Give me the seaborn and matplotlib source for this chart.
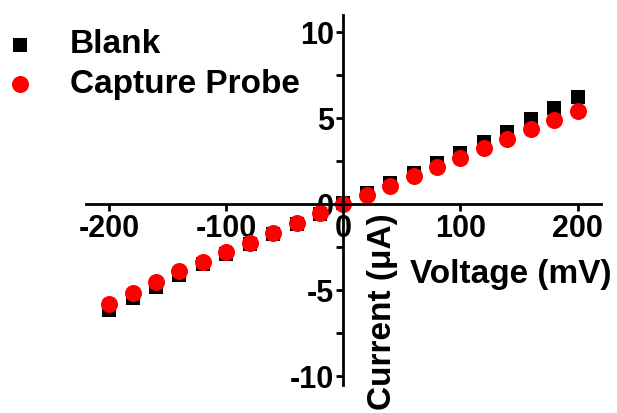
import numpy as np
import pandas as pd
import matplotlib
matplotlib.use('Agg')
import matplotlib.pyplot as plt
from matplotlib.ticker import MultipleLocator
import seaborn as sns

sns.set_style('ticks')
plt.rcParams['font.family'] = ['Liberation Sans', 'DejaVu Sans']
plt.rcParams['font.weight'] = 'bold'
plt.rcParams['axes.unicode_minus'] = False
plt.rcParams['text.color'] = 'black'
plt.rcParams['axes.labelcolor'] = 'black'
plt.rcParams['xtick.color'] = 'black'
plt.rcParams['ytick.color'] = 'black'
plt.rcParams['axes.edgecolor'] = 'black'

# I-V 数据
voltage = [-200, -180, -160, -140, -120, -100, -80, -60, -40, -20, 0,
           20, 40, 60, 80, 100, 120, 140, 160, 180, 200]
blank = [-6.16, -5.45, -4.80, -4.13, -3.50, -2.87, -2.29, -1.72, -1.15, -0.58, 0.05,
         0.64, 1.22, 1.82, 2.42, 3.00, 3.60, 4.20, 4.94, 5.56, 6.20]
capture = [-5.77, -5.14, -4.51, -3.90, -3.35, -2.77, -2.23, -1.67, -1.12, -0.54, 0.0,
           0.56, 1.07, 1.63, 2.15, 2.70, 3.24, 3.80, 4.34, 4.88, 5.43]

df = pd.DataFrame({'Voltage': voltage * 2,
                   'Current': blank + capture,
                   'Sample': ['Blank'] * len(voltage) + ['Capture Probe'] * len(voltage)})

fig = plt.figure(figsize=(6.17, 4.13), dpi=100)
ax = fig.add_axes([0.139, 0.068, 0.835, 0.896])

sns.scatterplot(data=df[df['Sample'] == 'Blank'], x='Voltage', y='Current',
                marker='s', color='black', s=90, linewidth=0, label='Blank', ax=ax)
sns.scatterplot(data=df[df['Sample'] == 'Capture Probe'], x='Voltage', y='Current',
                marker='o', color='red', s=150, linewidth=0, label='Capture Probe', ax=ax)

ax.set_xlim(-220, 220)
ax.set_ylim(-10.5, 11)
ax.spines['left'].set_position(('data', 0))
ax.spines['bottom'].set_position(('data', 0))
ax.spines['right'].set_visible(False)
ax.spines['top'].set_visible(False)
for sp in ['left', 'bottom']:
    ax.spines[sp].set_linewidth(2)

ax.xaxis.set_major_locator(MultipleLocator(100))
ax.yaxis.set_major_locator(MultipleLocator(5))
ax.yaxis.set_minor_locator(MultipleLocator(2.5))
ax.tick_params(axis='both', which='major', labelsize=22, width=2, length=5, pad=2)
ax.tick_params(axis='y', which='minor', width=2, length=5)
for lab in ax.get_xticklabels() + ax.get_yticklabels():
    lab.set_fontweight('bold')

ax.set_xlabel('Voltage (mV)', fontsize=24, fontweight='bold')
ax.xaxis.set_label_coords(0.827, 0.373, transform=fig.transFigure)
ax.set_ylabel('Current (μA)', fontsize=24, fontweight='bold')
ax.yaxis.set_label_coords(0.645, 0.245, transform=fig.transFigure)

leg = ax.legend(loc='upper left', bbox_to_anchor=(0.005, 0.929), bbox_transform=fig.transFigure,
                frameon=False, prop={'size': 24, 'weight': 'bold'}, handlelength=1.0,
                handletextpad=1.0, labelspacing=0.26, borderpad=0, borderaxespad=0)

fig.savefig('out.png', dpi=100)
